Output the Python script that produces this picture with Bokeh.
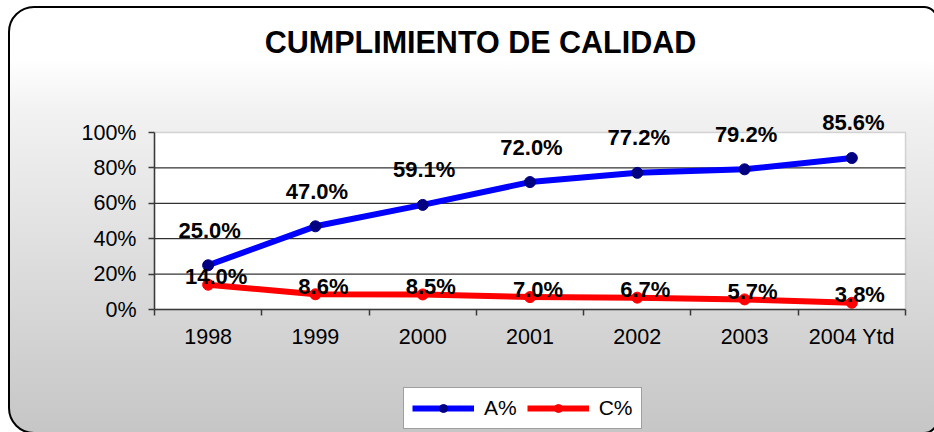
from bokeh.plotting import figure
from bokeh.models import (Range1d, FixedTicker, LabelSet, Label, Legend, LegendItem,
                          ColumnDataSource, BoxAnnotation, LinearAxis)
from bokeh.core.properties import value
from bokeh.embed import file_html
from bokeh.resources import INLINE

# ---- data ----
categories = ["1998", "1999", "2000", "2001", "2002", "2003", "2004 Ytd"]
a_pct = [25.0, 47.0, 59.1, 72.0, 77.2, 79.2, 85.6]
c_pct = [14.0, 8.6, 8.5, 7.0, 6.7, 5.7, 3.8]
y_ticks = [0, 20, 40, 60, 80, 100]
y_tick_labels = ["0%", "20%", "40%", "60%", "80%", "100%"]
series_names = ["A%", "C%"]
title_text = "CUMPLIMIENTO DE CALIDAD"

FONT = "Liberation Sans"
W, H = 934, 432
# plot-area placement in pixels (layout only)
PL, PR, PT, PB = 154, 905, 132, 309
n = len(categories)
xpx = (PR - PL) / n          # px per category
ypx = (PB - PT) / 1.0        # px per 100%
x_range = Range1d(-PL / xpx, n + (W - PR) / xpx)
y_range = Range1d(-(H - PB) / ypx, 1 + PT / ypx)

xs = [i + 0.5 for i in range(n)]
src_a = ColumnDataSource(dict(x=xs, y=[v / 100 for v in a_pct],
                              t=["%.1f%%" % v for v in a_pct]))
src_c = ColumnDataSource(dict(x=xs, y=[v / 100 for v in c_pct],
                              t=["%.1f%%" % v for v in c_pct]))
grid_vals = [v / 100 for v in y_ticks[1:-1]]

css = """
:host {
  position: relative;
  background: #ffffff;
  overflow: hidden;
}
:host::before {
  content: "";
  position: absolute;
  left: 8px; top: 6px;
  width: 930px; height: 428px;
  box-sizing: border-box;
  background: linear-gradient(to bottom, #ffffff 0%, #ffffff 12%, #f2f2f2 24%, #c6c6c6 100%);
  border: 2px solid #000;
  border-radius: 26px 14px 14px 26px;
  pointer-events: none;
}
"""

p = figure(width=W, height=H, output_backend="svg", toolbar_location=None,
           x_range=x_range, y_range=y_range,
           x_axis_type=None, y_axis_type=None,
           min_border=0, min_border_left=0, min_border_right=0,
           min_border_top=0, min_border_bottom=0,
           background_fill_alpha=0, border_fill_alpha=0,
           outline_line_color=None,
           stylesheets=[css])
p.grid.visible = False

# white plot area 0..100%
p.add_layout(BoxAnnotation(left=0, right=n, bottom=0, top=1, fill_color="white",
                           fill_alpha=1, line_color="#808080", line_width=1.5,
                           level="image"))

# gridlines 20..80%
p.segment(x0=[0] * len(grid_vals), x1=[n] * len(grid_vals), y0=grid_vals, y1=grid_vals,
          line_color="black", line_width=1)

# axes at fixed positions
xaxis = LinearAxis(fixed_location=0, bounds=(0, n),
                   ticker=FixedTicker(ticks=xs, minor_ticks=list(range(n + 1))),
                   major_label_overrides={x: c for x, c in zip(xs, categories)},
                   major_tick_out=0, major_tick_in=0, minor_tick_out=6, minor_tick_in=0,
                   major_label_standoff=9)
yaxis = LinearAxis(fixed_location=0, bounds=(0, 1),
                   ticker=FixedTicker(ticks=[v / 100 for v in y_ticks], minor_ticks=[]),
                   major_label_overrides={v / 100: l for v, l in zip(y_ticks, y_tick_labels)},
                   major_tick_out=6, major_tick_in=0, major_label_standoff=12)
for ax in (xaxis, yaxis):
    ax.axis_line_color = "#3a3a3a"
    ax.axis_line_width = 1.5
    ax.major_tick_line_color = "#3a3a3a"
    ax.major_tick_line_width = 1.5
    ax.minor_tick_line_color = "#3a3a3a"
    ax.minor_tick_line_width = 1.5
    ax.major_label_text_font = FONT
    ax.major_label_text_font_size = "21.5px"
    ax.major_label_text_color = "black"
p.add_layout(xaxis, "below")
p.add_layout(yaxis, "left")

# series
la = p.line("x", "y", source=src_a, line_color="#0000ff", line_width=6, line_join="round")
sa = p.scatter("x", "y", source=src_a, size=11, fill_color="#000080", line_color="#000080")
lc = p.line("x", "y", source=src_c, line_color="#ff0000", line_width=6, line_join="round")
sc = p.scatter("x", "y", source=src_c, size=11, fill_color="#ff0000", line_color="#ff0000")

# data labels
p.add_layout(LabelSet(x="x", y="y", text="t", source=src_a, x_offset=1.5, y_offset=35,
                      text_align="center", text_baseline="middle",
                      text_font=value(FONT), text_font_style="bold",
                      text_font_size="22px", text_color="black"))
p.add_layout(LabelSet(x="x", y="y", text="t", source=src_c, x_offset=8, y_offset=8,
                      text_align="center", text_baseline="middle",
                      text_font=value(FONT), text_font_style="bold",
                      text_font_size="22px", text_color="black"))

# title (screen px 480, 41 -> data coords)
p.add_layout(Label(x=(480 - PL) / xpx, y=(PB - 41) / ypx, text=title_text,
                   text_align="center", text_baseline="middle", text_font=FONT,
                   text_font_style="bold", text_font_size="30.5px", text_color="black"))

# legend
legend = Legend(items=[LegendItem(label=series_names[0], renderers=[la, sa]),
                       LegendItem(label=series_names[1], renderers=[lc, sc])],
                location=(403, 3), orientation="horizontal",
                glyph_width=62, glyph_height=20, label_standoff=10, spacing=10,
                padding=8, margin=0,
                label_text_font=FONT, label_text_font_size="21px",
                label_text_color="black",
                border_line_color="#404040", border_line_width=1.5,
                background_fill_color="white", background_fill_alpha=1)
p.add_layout(legend)

open("out.html", "w").write(file_html(p, INLINE))
